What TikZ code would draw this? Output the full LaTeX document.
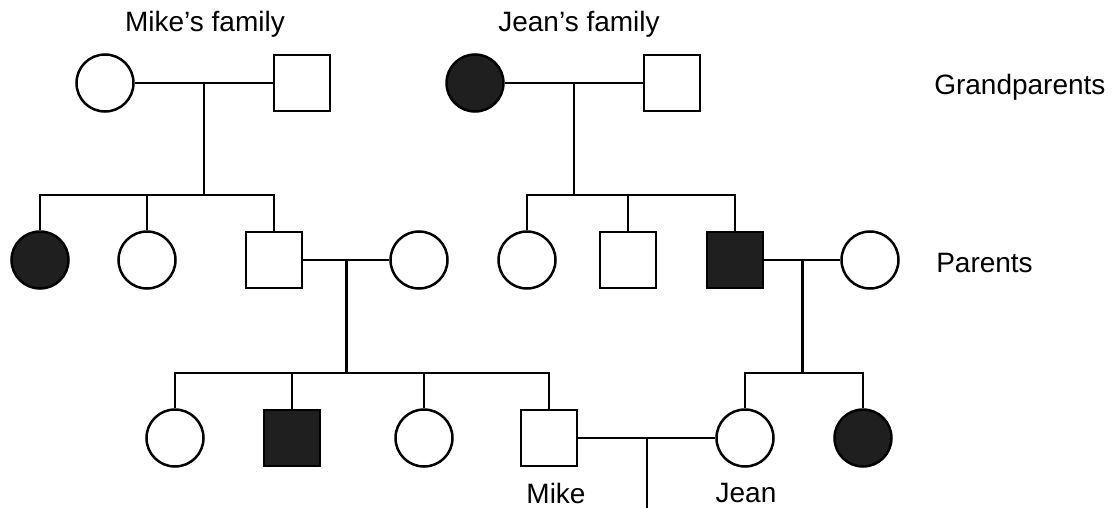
\documentclass[tikz,border=0pt]{standalone}
\usepackage{fontspec}
\setmainfont{Liberation Sans}
\begin{document}
\begin{tikzpicture}[x=1pt,y=1pt,line width=2.5pt,
  female/.style={draw,circle,minimum size=57pt,inner sep=0pt},
  male/.style={draw,rectangle,minimum size=56pt,inner sep=0pt},
  ill/.style={fill=black!88},
  lbl/.style={font=\fontsize{28}{32}\selectfont,inner sep=0pt}]
\useasboundingbox(0,0) rectangle (1117,-508);
% grandparents
\node[female](gm1) at (105,-83) {};
\node[male](gf1) at (302,-83) {};
\node[female,ill](gm2) at (475,-83) {};
\node[male](gf2) at (672,-83) {};
% parents
\node[female,ill](a1) at (40,-260) {};
\node[female](a2) at (147,-260) {};
\node[male](mdad) at (274,-260) {};
\node[female](mmom) at (419,-260) {};
\node[female](b1) at (527,-260) {};
\node[male](b2) at (628,-260) {};
\node[male,ill](jdad) at (735,-260) {};
\node[female](jmom) at (870,-260) {};
% children
\node[female](c1) at (175,-438) {};
\node[male,ill](c2) at (292,-438) {};
\node[female](c3) at (424,-438) {};
\node[male](mike) at (549,-438) {};
\node[female](jean) at (745,-438) {};
\node[female,ill](c6) at (863,-438) {};
% marriages
\draw(gm1)--(gf1) coordinate[midway](g1);
\draw(gm2)--(gf2) coordinate[midway](g2);
\draw(mdad)--(mmom) coordinate[midway](p1);
\draw(jdad)--(jmom) coordinate[midway](p2);
\draw(mike)--(jean) coordinate[midway](mj);
% sibships
\draw(g1)--(g1|-0,-195);
\draw(a1.north)|-(mdad|-0,-195)--(mdad.north);
\draw(a2.north)--(a2|-0,-195);
\draw(g2)--(g2|-0,-195);
\draw(b1.north)|-(jdad|-0,-195)--(jdad.north);
\draw(b2.north)--(b2|-0,-195);
\draw(p1)--(p1|-0,-373);
\draw(c1.north)|-(mike|-0,-373)--(mike.north);
\draw(c2.north)--(c2|-0,-373);
\draw(c3.north)--(c3|-0,-373);
\draw(p2)--(p2|-0,-373);
\draw(jean.north)|-(c6|-0,-373)--(c6.north);
\coordinate(baby) at (mj|-0,-508);
\draw(mj)--(baby);
% labels
\node[lbl,anchor=base](t1) at (205,-32) {Mike’s family};
\node[lbl,anchor=base](t2) at (579,-32) {Jean’s family};
\node[lbl,anchor=base west](t3) at (933,-95) {Grandparents};
\node[lbl,anchor=base west](t4) at (935,-272) {Parents};
\node[lbl,anchor=base](t5) at (556,-503) {Mike};
\node[lbl,anchor=base](t6) at (746,-502) {Jean};
\end{tikzpicture}
\end{document}
